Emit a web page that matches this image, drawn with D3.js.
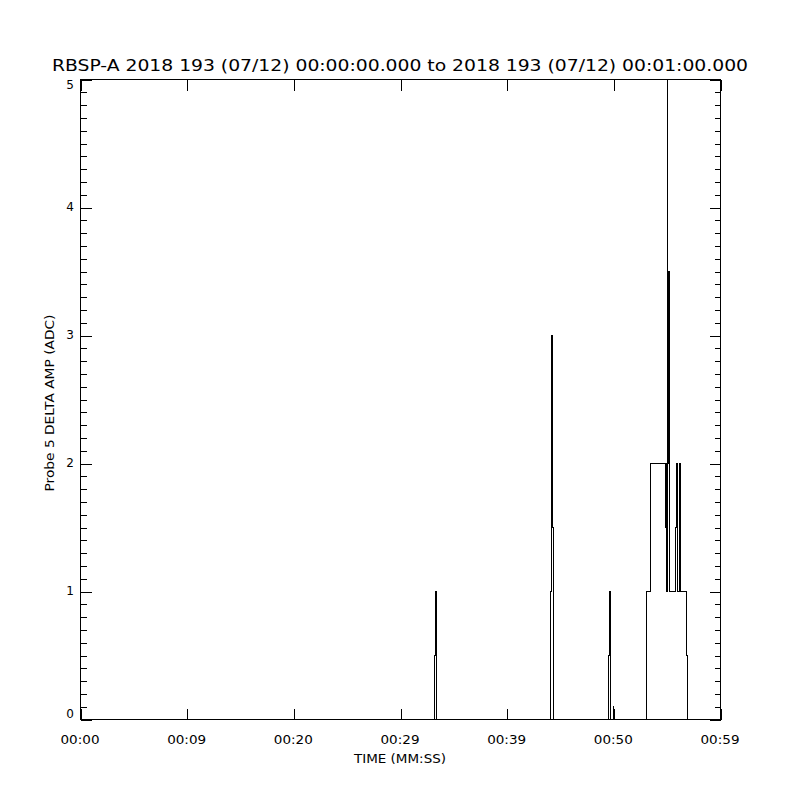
<!DOCTYPE html>
<html>
<head>
<meta charset="utf-8">
<script src="https://cdn.jsdelivr.net/npm/d3@7"></script>
<style>
  html, body { margin: 0; padding: 0; background: #fff; }
  svg { display: block; }
  text { font-family: "DejaVu Sans", sans-serif; fill: #000; }
</style>
</head>
<body>
<script>
// ---- data (seconds since 00:00:00, ADC) ----
const times = [0, 33.17, 33.28, 33.33,
  44.06, 44.18, 44.21, 44.31,
  49.50, 49.62, 49.66, 49.71, 49.97, 50.01,
  53.09, 53.47, 54.87, 54.92, 54.96, 55.03, 55.07, 55.13, 55.18, 55.22,
  55.81, 55.88, 55.92, 55.97, 56.01, 56.12, 56.16, 56.20, 56.24, 56.28,
  56.81, 56.90, 60];
const values = [0, 0.5, 1, 0,
  1, 3, 1.5, 0,
  0.5, 1, 0.5, 0, 0.1, 0,
  1, 2, 1.5, 2, 1, 5, 3.5, 2, 3.5, 1,
  1.5, 2, 1.5, 2, 1, 1.5, 2, 1.5, 2, 1,
  0.5, 0, 0];
const xTickValues = [0, 10, 20, 30, 40, 50, 60];
const xTickLabels = ["00:00", "00:09", "00:20", "00:29", "00:39", "00:50", "00:59"];
const yTickValues = [0, 1, 2, 3, 4, 5];
const titleText = "RBSP-A 2018 193 (07/12) 00:00:00.000 to 2018 193 (07/12) 00:01:00.000";
const xLabel = "TIME (MM:SS)";
const yLabel = "Probe 5 DELTA AMP (ADC)";

const W = 800, H = 800;
const L = 80, R = 720, T = 79, B = 719;

const svg = d3.select("body").append("svg").attr("width", W).attr("height", H);

const x = d3.scaleLinear().domain([0, 60]).range([L, R]);
const y = d3.scaleLinear().domain([0, 5]).range([B, T]);

const g = svg.append("g").attr("transform", "translate(0.5,0.5)");

// data line
const pts = times.map((t, i) => [t, values[i]]);
g.append("path")
  .datum(pts)
  .attr("fill", "none")
  .attr("stroke", "#000")
  .attr("stroke-width", 1)
  .attr("shape-rendering", "crispEdges")
  .attr("d", d3.line().x(d => x(d[0])).y(d => y(d[1])).curve(d3.curveStepAfter));

// frame
g.append("rect").attr("x", L).attr("y", T).attr("width", R - L).attr("height", B - T)
  .attr("fill", "none").attr("stroke", "#000").attr("shape-rendering", "crispEdges");

const MAJ = 11, MIN = 6;
// x ticks (bottom and top)
const xAxisB = d3.axisBottom(x).tickValues(xTickValues).tickSize(-MAJ).tickFormat("");
const xAxisT = d3.axisTop(x).tickValues(xTickValues).tickSize(-MAJ).tickFormat("");
g.append("g").attr("transform", `translate(0,${B})`).call(xAxisB);
g.append("g").attr("transform", `translate(0,${T})`).call(xAxisT);

// y ticks (major + minor, left and right)
const yMinor = d3.range(0, 51).map(d => d / 10).filter(v => Math.abs(v - Math.round(v)) > 1e-6);
g.append("g").attr("transform", `translate(${L},0)`).call(d3.axisLeft(y).tickValues(yTickValues).tickSize(-MAJ).tickFormat(""));
g.append("g").attr("transform", `translate(${L},0)`).call(d3.axisLeft(y).tickValues(yMinor).tickSize(-MIN).tickFormat(""));
g.append("g").attr("transform", `translate(${R},0)`).call(d3.axisRight(y).tickValues(yTickValues).tickSize(-MAJ).tickFormat(""));
g.append("g").attr("transform", `translate(${R},0)`).call(d3.axisRight(y).tickValues(yMinor).tickSize(-MIN).tickFormat(""));

g.selectAll(".domain").remove();
g.selectAll(".tick line").attr("stroke", "#000").attr("shape-rendering", "crispEdges");

// x tick labels
svg.append("g").selectAll("text").data(xTickValues).join("text")
  .attr("x", d => x(d)).attr("y", 740)
  .attr("text-anchor", "middle").attr("dominant-baseline", "central")
  .attr("font-size", 12)
  .attr("textLength", 39).attr("lengthAdjust", "spacingAndGlyphs")
  .text((d, i) => xTickLabels[i]);

// y tick labels (top and bottom labels kept inside the frame's height)
svg.append("g").selectAll("text").data(yTickValues).join("text")
  .attr("x", L - 6)
  .attr("y", d => d === 5 ? y(d) + 6 : (d === 0 ? y(d) - 5 : y(d)))
  .attr("text-anchor", "end").attr("dominant-baseline", "central")
  .attr("font-size", 12)
  .text(d => d);

// title
svg.append("text").attr("x", 400).attr("y", 65)
  .attr("text-anchor", "middle").attr("dominant-baseline", "central")
  .attr("font-size", 16)
  .attr("textLength", 696).attr("lengthAdjust", "spacingAndGlyphs")
  .text(titleText);

// x label
svg.append("text").attr("x", 400).attr("y", 759)
  .attr("text-anchor", "middle").attr("dominant-baseline", "central")
  .attr("font-size", 12)
  .attr("textLength", 92).attr("lengthAdjust", "spacingAndGlyphs")
  .text(xLabel);

// y label
svg.append("text")
  .attr("transform", "translate(50,403) rotate(-90)")
  .attr("text-anchor", "middle").attr("dominant-baseline", "central")
  .attr("font-size", 12)
  .attr("textLength", 177).attr("lengthAdjust", "spacingAndGlyphs")
  .text(yLabel);
</script>
</body>
</html>
